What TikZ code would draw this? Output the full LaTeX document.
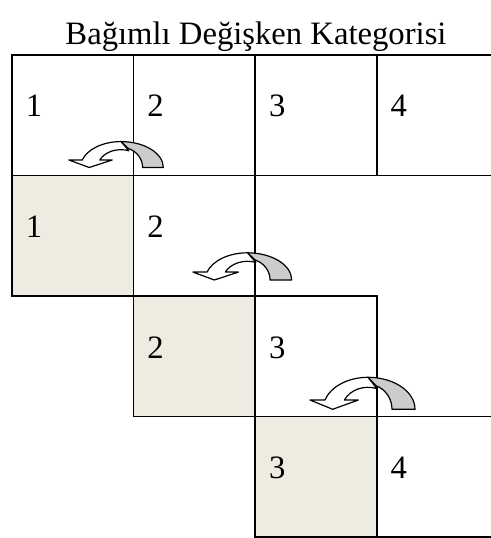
\documentclass[tikz,border=0pt]{standalone}
\usepackage{fontspec}
\setmainfont{Liberation Serif}
\definecolor{CellShade}{RGB}{238,236,225}
\definecolor{ArrowGrey}{RGB}{204,204,204}
\usetikzlibrary{calc}
\newcommand{\cellfont}{\fontsize{24.5pt}{29pt}\selectfont}

\tikzset{
  curvearrow/.pic={
    % back half (grey)
    \filldraw[arrowpart, fill=ArrowGrey] (0,32)
      arc[start angle=90, end angle=0, x radius=47, y radius=32]
      -- (24,0) arc[start angle=0, end angle=70, x radius=24, y radius=25] -- cycle;
    % front half with head
    \filldraw[arrowpart, fill=white] (0,32)
      arc[start angle=90, end angle=163, x radius=45, y radius=32]
      -- (-58,9.3) -- (-35.3,0) -- (-9.7,9.3) -- (-23.6,9.3)
      arc[start angle=155, end angle=70, x radius=26, y radius=22] -- cycle;
  }
}

\begin{document}
\begin{tikzpicture}[x=0.75pt, y=-0.75pt,
    cell/.style={draw, line width=1.3pt, minimum width=91.2pt, minimum height=90.4pt,
                 inner sep=0pt, outer sep=0pt, anchor=north west},
    shaded/.style={cell, fill=CellShade},
    num/.style={anchor=base, inner sep=0pt, font=\cellfont},
    arrowpart/.style={draw=black, line width=0.9pt, line join=round}
  ]
    \useasboundingbox (0,0) rectangle (491,538);
    \clip (0,0) rectangle (491,538);

    % Title
    \node[num] (title) at (256,45) {Bağımlı Değişken Kategorisi};

    % Row 1
    \node[cell] (r1c1) at (12,55) {};
    \node[cell] (r1c2) at (133.6,55) {};
    \node[cell] (r1c3) at (255.2,55) {};
    \node[cell] (r1c4) at (376.8,55) {};

    % Row 2
    \node[shaded] (r2c1) at (12,175.5) {};
    \node[cell] (r2c2) at (133.6,175.5) {};

    % Row 3
    \node[shaded] (r3c2) at (133.6,296) {};
    \node[cell] (r3c3) at (255.2,296) {};

    % Row 4
    \node[shaded] (r4c3) at (255.2,416.5) {};
    \node[cell] (r4c4) at (376.8,416.5) {};

    % Category numbers
    \node[num] (n11) at ($(r1c1.north west)+(22,62)$) {1};
    \node[num] (n12) at ($(r1c2.north west)+(22,62)$) {2};
    \node[num] (n13) at ($(r1c3.north west)+(22,62)$) {3};
    \node[num] (n14) at ($(r1c4.north west)+(22,62)$) {4};
    \node[num] (n21) at ($(r2c1.north west)+(22,62)$) {1};
    \node[num] (n22) at ($(r2c2.north west)+(22,62)$) {2};
    \node[num] (n32) at ($(r3c2.north west)+(22,62)$) {2};
    \node[num] (n33) at ($(r3c3.north west)+(22,62)$) {3};
    \node[num] (n43) at ($(r4c3.north west)+(22,62)$) {3};
    \node[num] (n44) at ($(r4c4.north west)+(22,62)$) {4};

    % Curved arrows
    \pic (arrA) [xscale=0.9, yscale=-0.81] at (121,167.5) {curvearrow};
    \pic (arrB) [xscale=0.94, yscale=-0.85] at (247.5,280) {curvearrow};
    \pic (arrC) [yscale=-1] at (368,409.3) {curvearrow};
  \end{tikzpicture}
\end{document}
